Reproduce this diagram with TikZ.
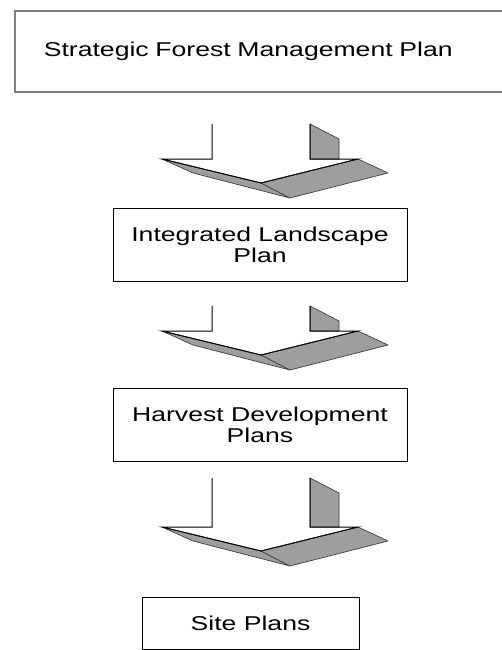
\documentclass[tikz,border=0pt]{standalone}
\usepackage{fontspec}
\newfontfamily\planfont[FakeStretch=1.33]{Liberation Sans}
\definecolor{arrowgray}{gray}{0.62}
\definecolor{framegray}{gray}{0.5}

\begin{document}
\begin{tikzpicture}[x=1pt,y=-1pt,
    planbox/.style={draw=black,line width=1pt,inner sep=0pt,align=center,
      font=\planfont\fontsize{20}{21}\selectfont},
    face/.style={fill=arrowgray,draw=black!75,line width=0.7pt,line join=round},
    rim/.style={draw=black,line width=1pt},
    pics/blockarrow/.style={code={
      \filldraw[face] (162,0) -- (193,14) -- (290,39) -- (261,24) -- cycle;
      \filldraw[face] (261,24) -- (358,0) -- (388,14) -- (290,39) -- cycle;
      \filldraw[face] (310,-#1) -- (339,{-#1+15}) -- (339,0) -- (310,0) -- cycle;
      \draw[rim] (212,-#1) -- (212,0) -- (162,0) -- (261,24) -- (358,0) -- (310,0) -- (310,-#1);
    }}]
	\useasboundingbox (0,0) rectangle (501,650);
	% plan levels
	\node[planbox,draw=framegray,line width=1.6pt,anchor=west,align=left,
	  minimum height=81pt,text width=432pt,inner xsep=29pt] (strategic) at (14,51.5)
	  {Strategic Forest Management Plan};
	\node[planbox,minimum width=294pt,minimum height=73pt] (landscape) at (260,244.5)
	  {Integrated Landscape\\Plan};
	\node[planbox,minimum width=294pt,minimum height=73pt] (harvest) at (260,424.5)
	  {Harvest Development\\Plans};
	\node[planbox,minimum width=217pt,minimum height=52pt] (site) at (250.5,623)
	  {Site Plans};
	% block arrows between levels
	\pic at (0,159) {blockarrow=35};
	\pic at (0,331) {blockarrow=25};
	\pic at (0,527) {blockarrow=49};
\end{tikzpicture}
\end{document}
